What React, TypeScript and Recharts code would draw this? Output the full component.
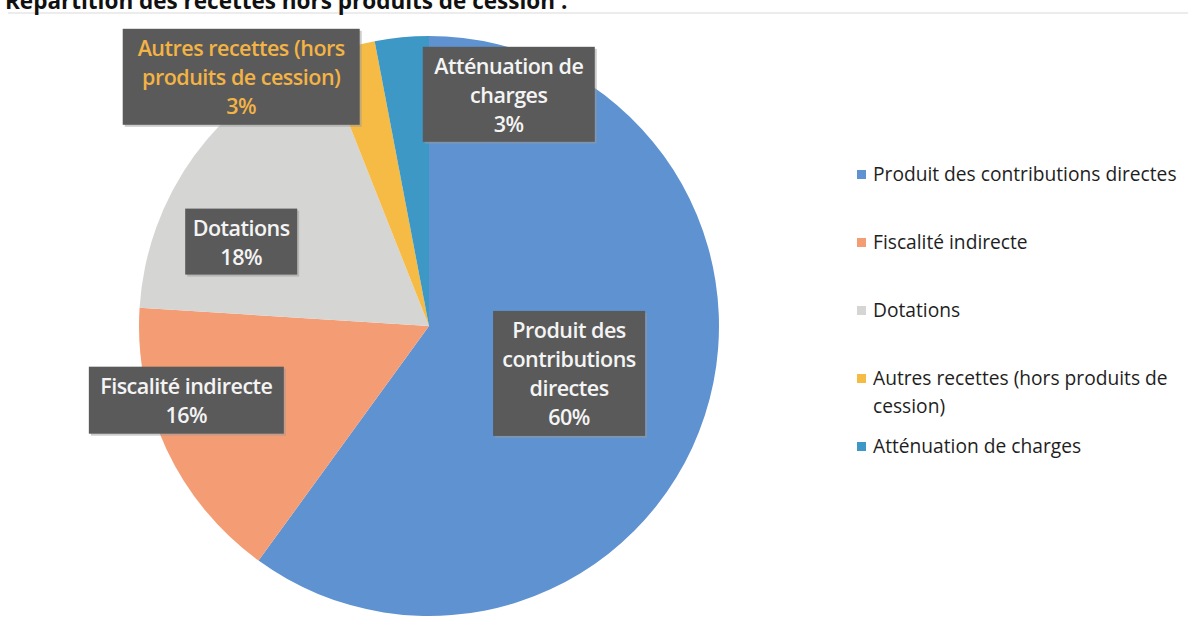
import React from 'react';
import { PieChart, Pie, Cell, Legend } from 'recharts';

const categories = [
  'Produit des contributions directes',
  'Fiscalité indirecte',
  'Dotations',
  'Autres recettes (hors produits de cession)',
  'Atténuation de charges',
];
const values = [60, 16, 18, 3, 3];
const labelLines = [
  ['Produit des', 'contributions', 'directes'],
  ['Fiscalité indirecte'],
  ['Dotations'],
  ['Autres recettes (hors', 'produits de cession)'],
  ['Atténuation de', 'charges'],
];
const legendLines = [
  ['Produit des contributions directes'],
  ['Fiscalité indirecte'],
  ['Dotations'],
  ['Autres recettes (hors produits de', 'cession)'],
  ['Atténuation de charges'],
];
const title = 'Répartition des recettes hors produits de cession :';

const COLORS = ['#5F92D0', '#F49C74', '#D5D5D3', '#F6BB45', '#3D98C6'];
const LABEL_TEXT = ['#F4F4F4', '#F4F4F4', '#F4F4F4', '#F3B345', '#F4F4F4'];
// per-label placement tweaks (angle offset in degrees, radius factor, box w, box h)
const LABEL_LAYOUT = [
  { da: -0.7, k: 0.51, w: 152, h: 125 },
  { da: -8.2, k: 0.875, w: 195, h: 67 },
  { da: 11.8, k: 0.71, w: 112, h: 66 },
  { da: 20.8, k: 1.076, w: 237, h: 96 },
  { da: -24.4, k: 0.845, w: 172, h: 95 },
];

const data = categories.map((name, i) => ({ name, value: values[i] }));
const total = values.reduce((a, b) => a + b, 0);

const FONT = '"Open Sans", sans-serif';
const RAD = Math.PI / 180;

const renderLabel = (props: any) => {
  const { cx, cy, midAngle, outerRadius, index, value } = props;
  const L = LABEL_LAYOUT[index];
  const a = (midAngle + L.da) * RAD;
  const x = cx + outerRadius * L.k * Math.cos(a);
  const y = cy - outerRadius * L.k * Math.sin(a);
  const lines = [...labelLines[index], `${Math.round((value / total) * 100)}%`];
  const lh = 29;
  const startY = y - ((lines.length - 1) * lh) / 2;
  return (
    <g key={`lbl-${index}`}>
      <rect x={x - L.w / 2 + 2} y={y - L.h / 2 + 2} width={L.w} height={L.h} fill="#9a9a9a" opacity={0.5} />
      <rect x={x - L.w / 2} y={y - L.h / 2} width={L.w} height={L.h} fill="#5A5A5A" />
      {lines.map((t, j) => (
        <text
          key={j}
          x={x}
          y={startY + j * lh}
          textAnchor="middle"
          dominantBaseline="central"
          fill={LABEL_TEXT[index]}
          fontFamily={FONT}
          fontWeight={600}
          fontSize={21.5}
          letterSpacing={-0.5}
        >
          {t}
        </text>
      ))}
    </g>
  );
};

const renderLegend = () => (
  <div style={{ fontFamily: FONT, fontSize: 19.2, color: '#1e1e1e', whiteSpace: 'nowrap' }}>
    {categories.map((c, i) => (
      <div key={c} style={{ height: 68, display: 'flex', alignItems: 'flex-start' }}>
        <div
          style={{
            width: 9,
            height: 9,
            background: COLORS[i],
            marginTop: 10,
            marginRight: 7,
            flex: 'none',
          }}
        />
        <div style={{ lineHeight: '28px' }}>
          {legendLines[i].map((t, j) => (
            <div key={j}>{t}</div>
          ))}
        </div>
      </div>
    ))}
  </div>
);

export default function App() {
  return (
    <div style={{ position: 'absolute', left: 0, top: 0, width: 1197, height: 629, background: '#ffffff', overflow: 'hidden' }}>
      <div
        style={{
          position: 'absolute',
          left: 5,
          top: -15,
          fontFamily: '"Open Sans", sans-serif',
          fontWeight: 700,
          fontSize: 22.5,
          color: '#111',
          whiteSpace: 'nowrap',
          zIndex: 2,
        }}
      >
        {title}
      </div>
      <div style={{ position: 'absolute', left: 8, top: 12, width: 1180, height: 2, background: '#ececec' }} />
      <PieChart width={1197} height={629} style={{ position: 'absolute', left: 0, top: 0 }}>
        <Pie
          data={data}
          dataKey="value"
          nameKey="name"
          cx={424}
          cy={321}
          outerRadius={290}
          startAngle={90}
          endAngle={-270}
          stroke="none"
          isAnimationActive={false}
          label={renderLabel}
          labelLine={false}
        >
          {data.map((d, i) => (
            <Cell key={d.name} fill={COLORS[i]} />
          ))}
        </Pie>
        <Legend
          layout="vertical"
          align="right"
          verticalAlign="top"
          content={renderLegend}
          wrapperStyle={{ left: 857, top: 160, width: 340 }}
        />
      </PieChart>
    </div>
  );
}
